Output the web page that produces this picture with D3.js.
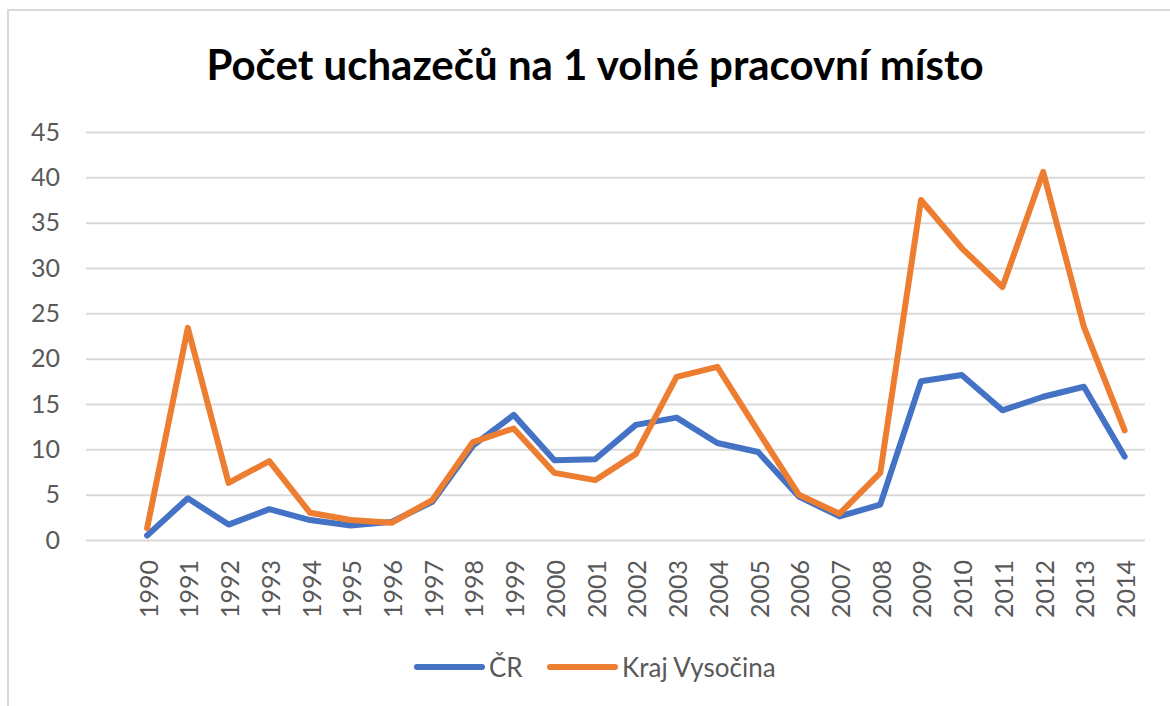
<!DOCTYPE html>
<html>
<head>
<meta charset="utf-8">
<script src="https://cdn.jsdelivr.net/npm/d3@7"></script>
<style>
  body { margin: 0; background: #fff; }
  text { font-family: Lato, "Open Sans", sans-serif; }
</style>
</head>
<body>
<script>
var years = d3.range(1990, 2015)
var cr = [0.5, 4.6, 1.7, 3.4, 2.2, 1.6, 2.0, 4.2, 10.4, 13.8, 8.8, 8.9, 12.7, 13.5, 10.7, 9.7, 4.8, 2.6, 3.9, 17.5, 18.2, 14.3, 15.8, 16.9, 9.2]
var vysocina = [1.3, 23.4, 6.3, 8.7, 3.0, 2.2, 1.9, 4.4, 10.8, 12.3, 7.4, 6.6, 9.5, 18.0, 19.1, 12.0, 5.0, 2.9, 7.4, 37.5, 32.2, 27.9, 40.6, 23.5, 12.1]
var yTicks = [0, 5, 10, 15, 20, 25, 30, 35, 40, 45]
var seriesNames = ["ČR", "Kraj Vysočina"]
var colors = ["#4472C4", "#ED7D31"]

var w = 1170, h = 706

var svg = d3.select("body").append("svg").attr("width", w).attr("height", h)

// chart frame
svg.append("rect")
  .attr("x", 8).attr("y", 10).attr("width", 1200).attr("height", 800)
  .attr("fill", "#fff").attr("stroke", "#d9d9d9").attr("stroke-width", 2)

// the category axis keeps one empty slot before 1990
var x = d3.scaleLinear().domain([1988.5, 2014.5]).range([86, 1145])
var y = d3.scaleLinear().domain([0, 45]).range([540, 132])

svg.append("text")
  .attr("x", 595).attr("y", 80)
  .attr("text-anchor", "middle")
  .attr("font-size", 42).attr("font-weight", "bold").attr("fill", "#000")
  .text("Počet uchazečů na 1 volné pracovní místo")

var yAxis = svg.append("g").attr("transform", "translate(86,0)")
  .call(d3.axisLeft(y).tickValues(yTicks).tickSize(-(1145 - 86)).tickPadding(26))
yAxis.select(".domain").remove()
yAxis.selectAll("line").attr("stroke", "#d9d9d9").attr("stroke-width", 2)
yAxis.selectAll("text").attr("font-size", 25).attr("fill", "#595959")

var xAxis = svg.append("g").attr("transform", "translate(0,540)")
  .call(d3.axisBottom(x).tickValues(years).tickFormat(d3.format("d")).tickSize(0))
xAxis.select(".domain").remove()
xAxis.selectAll("text")
  .attr("font-size", 25).attr("fill", "#595959")
  .attr("text-anchor", "end")
  .attr("dy", null)
  .attr("dominant-baseline", "central")
  .attr("transform", "translate(0,20) rotate(-90)")
  .attr("y", 0).attr("x", 0)

var line = d3.line()
  .x(function(d, i) { return x(years[i]) })
  .y(function(d) { return y(d) })

;[cr, vysocina].forEach(function(s, i) {
  svg.append("path")
    .attr("d", line(s))
    .attr("fill", "none")
    .attr("stroke", colors[i])
    .attr("stroke-width", 6)
    .attr("stroke-linejoin", "round")
    .attr("stroke-linecap", "round")
})

// legend
var legendX = [417, 550]
var legend = svg.append("g")
seriesNames.forEach(function(n, i) {
  legend.append("line")
    .attr("x1", legendX[i]).attr("x2", legendX[i] + 65)
    .attr("y1", 667).attr("y2", 667)
    .attr("stroke", colors[i]).attr("stroke-width", 6).attr("stroke-linecap", "round")
  legend.append("text")
    .attr("x", legendX[i] + 72).attr("y", 667)
    .attr("dominant-baseline", "central")
    .attr("font-size", 26).attr("fill", "#595959")
    .text(n)
})
</script>
</body>
</html>
